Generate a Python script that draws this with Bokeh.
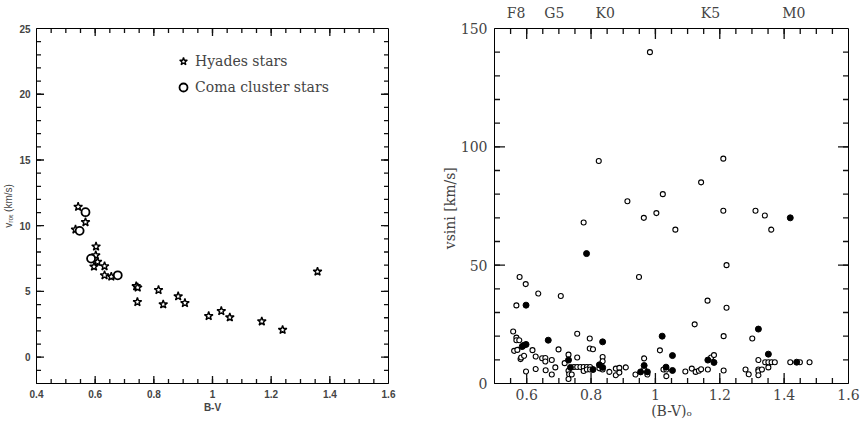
import math
from bokeh.plotting import figure
from bokeh.models import FixedTicker, LinearAxis, Legend, LegendItem, ColumnDataSource
from bokeh.layouts import row
from bokeh.embed import file_html
from bokeh.resources import INLINE

# ---------------- data: left panel ----------------
hyades_bv = [0.542, 0.533, 0.567, 0.603, 0.602, 0.608, 0.596, 0.632, 0.632, 0.655,
             0.740, 0.745, 0.744, 0.816, 0.832, 0.883, 0.906, 0.987, 1.030, 1.059,
             1.168, 1.239, 1.358]
hyades_vrot = [11.44, 9.71, 10.27, 8.42, 7.75, 7.25, 6.89, 6.92, 6.23, 6.13,
               5.40, 5.30, 4.20, 5.11, 4.02, 4.63, 4.12, 3.13, 3.51, 3.03,
               2.72, 2.08, 6.51]
coma_bv = [0.567, 0.547, 0.586, 0.677]
coma_vrot = [11.03, 9.61, 7.50, 6.23]

left_xticks = [0.4, 0.6, 0.8, 1.0, 1.2, 1.4, 1.6]
left_xlabels = ["0.4", "0.6", "0.8", "1", "1.2", "1.4", "1.6"]
left_yticks = [0, 5, 10, 15, 20, 25]

# ---------------- data: right panel ----------------
open_bv = [0.983, 0.824, 1.211, 1.142, 1.023, 0.913, 1.003, 1.211, 1.311, 1.340,
           0.964, 0.777, 1.062, 1.360, 1.221, 0.949, 0.578, 0.597, 0.636, 0.706,
           0.568, 1.162, 1.221, 1.122, 0.558, 0.757, 1.212, 0.568, 0.568, 0.577,
           0.796, 1.301,
           0.561, 0.571, 0.581, 0.583, 0.592, 0.598, 0.618, 0.628, 0.628, 0.648,
           0.658, 0.658, 0.659, 0.678, 0.678, 0.689, 0.699, 0.718, 0.730, 0.730,
           0.732, 0.730, 0.740, 0.757, 0.747, 0.757, 0.767, 0.777, 0.787, 0.797,
           0.777, 0.787, 0.797, 0.796, 0.806, 0.836, 0.836, 0.826, 0.836, 0.857,
           0.877, 0.888, 0.877, 0.888, 0.908, 0.938, 0.965, 0.965, 0.975, 1.014,
           1.025, 1.034, 1.034, 1.093, 1.113, 1.125, 1.135, 1.142, 1.163, 1.173,
           1.182, 1.212, 1.280, 1.290, 1.320, 1.320, 1.320, 1.320, 1.331, 1.351,
           1.341, 1.351, 1.361, 1.371, 1.419, 1.449, 1.479]
open_vsini = [140, 94, 95, 85, 80, 77, 72, 73, 73, 71,
              70, 68, 65, 65, 50, 45, 45, 42, 38, 37,
              33, 35, 32, 25, 22, 21, 20, 19.4, 18.3, 18.3,
              19, 19,
              13.8, 14.2, 10.3, 11.0, 11.7, 5.1, 14.1, 11.4, 6.1, 10.7,
              10.8, 9.3, 5.6, 9.9, 3.8, 6.8, 14.4, 8.6, 12.2, 5.4,
              3.9, 1.9, 3.8, 11.0, 7.0, 7.0, 7.0, 7.0, 7.0, 7.0,
              5.3, 5.9, 5.9, 14.8, 14.5, 11.2, 9.4, 6.4, 5.9, 4.9,
              6.3, 6.6, 3.5, 4.6, 6.8, 3.8, 10.6, 5.9, 3.8, 14.0,
              5.9, 5.9, 3.1, 5.1, 6.3, 4.9, 5.4, 6.0, 5.9, 11.0,
              12.0, 5.5, 5.9, 3.9, 9.9, 5.9, 5.2, 3.5, 5.9, 6.8,
              9.0, 9.0, 9.0, 9.0, 9.0, 9.0, 9.0]
filled_bv = [0.598, 0.786, 1.419, 0.598, 0.590, 0.586, 0.667, 0.730, 0.736, 0.806,
             0.826, 0.836, 0.836, 0.954, 0.965, 0.975, 1.021, 1.033, 1.053, 1.053,
             1.163, 1.182, 1.320, 1.351, 1.439]
filled_vsini = [33.1, 54.9, 70.0, 16.5, 16.1, 15.6, 18.3, 9.9, 6.8, 5.9,
                7.9, 6.8, 17.6, 4.9, 7.6, 4.9, 20.0, 6.9, 11.8, 5.5,
                9.9, 8.9, 23.0, 12.4, 9.0]

right_xticks = [0.6, 0.8, 1.0, 1.2, 1.4, 1.6]
right_xlabels = ["0.6", "0.8", "1", "1.2", "1.4", "1.6"]
right_yticks = [0, 50, 100, 150]
spec_types = ["F8", "G5", "K0", "K5", "M0"]
spec_bv = [0.567, 0.686, 0.844, 1.171, 1.430]


def steps(lo, hi, step):
    n = int(round((hi - lo) / step))
    return [round(lo + i * step, 4) for i in range(n + 1)]


def plain_axis(ax):
    ax.major_tick_in = 0
    ax.major_tick_out = 0
    ax.minor_tick_in = 0
    ax.minor_tick_out = 0
    ax.axis_line_color = "black"
    ax.major_tick_line_color = None
    ax.minor_tick_line_color = None


def inner_ticks(p, x0, x1, y0, y1, fw, fh, xmaj, xmin, ymaj, ymin, lmaj, lmin):
    """Inward tick marks on all four frame sides, drawn as 'dash' markers
    whose centres sit half a tick length inside the frame."""
    dx = (x1 - x0) / fw  # data per pixel
    dy = (y1 - y0) / fh
    X, Y, S, A = [], [], [], []
    for ticks, ln in ((xmaj, lmaj), (xmin, lmin)):
        for v in ticks:
            if x0 < v < x1:
                X += [v, v]
                Y += [y0 + (ln / 2 + 0.5) * dy, y1 - (ln / 2 + 0.5) * dy]
                S += [ln, ln]
                A += [math.pi / 2] * 2
    for ticks, ln in ((ymaj, lmaj), (ymin, lmin)):
        for v in ticks:
            if y0 < v < y1:
                Y += [v, v]
                X += [x0 + (ln / 2 + 0.5) * dx, x1 - (ln / 2 + 0.5) * dx]
                S += [ln, ln]
                A += [0.0, 0.0]
    src = ColumnDataSource(dict(x=X, y=Y, s=S, a=A))
    p.scatter("x", "y", source=src, marker="dash", size="s", angle="a",
              line_color="#111111", line_width=1.3)


# ---------------- left figure ----------------
LX0, LX1, LY0, LY1 = 0.4, 1.6, -2, 25
p1 = figure(width=430, height=426, x_range=(LX0, LX1), y_range=(LY0, LY1),
            output_backend="svg", toolbar_location=None,
            min_border_left=35, min_border_right=42, min_border_top=28, min_border_bottom=43)
p1.grid.visible = False
p1.outline_line_color = "black"

p1.xaxis.ticker = FixedTicker(ticks=left_xticks, minor_ticks=[])
p1.yaxis.ticker = FixedTicker(ticks=left_yticks, minor_ticks=[])
p1.xaxis.major_label_overrides = {t: l for t, l in zip(left_xticks, left_xlabels)}
for ax in (p1.xaxis[0], p1.yaxis[0]):
    plain_axis(ax)
    ax.major_label_text_font = "Liberation Sans"
    ax.major_label_text_font_style = "bold"
    ax.major_label_text_font_size = "10px"
    ax.major_label_standoff = 7
    ax.axis_label_text_font = "Liberation Sans"
    ax.axis_label_text_font_size = "10px"
p1.xaxis.major_label_standoff = 6
p1.xaxis.axis_label_standoff = 1
p1.yaxis.major_label_standoff = 6
p1.yaxis.axis_label_standoff = 2
p1.xaxis.axis_label = "B-V"
p1.xaxis.axis_label_text_font_style = "bold"
p1.yaxis.axis_label = "vᵣₒₜ (km/s)"
p1.yaxis.axis_label_text_font_style = "normal"

inner_ticks(p1, LX0, LX1, LY0, LY1, 350, 355, left_xticks, steps(LX0, LX1, 0.05),
            left_yticks, steps(LY0, LY1, 1), 7, 4)

src_h = ColumnDataSource(dict(x=hyades_bv, y=hyades_vrot))
src_c = ColumnDataSource(dict(x=coma_bv, y=coma_vrot))
r_h = p1.scatter("x", "y", source=src_h, marker="star", size=9,
                 fill_color="white", line_color="black", line_width=1.4)
r_c = p1.scatter("x", "y", source=src_c, marker="circle", size=8,
                 fill_color="white", line_color="black", line_width=1.8)

legend = Legend(items=[LegendItem(label="Hyades stars", renderers=[r_h]),
                       LegendItem(label="Coma cluster stars", renderers=[r_c])],
                location=(137, 286), border_line_color=None, background_fill_alpha=0,
                padding=0, margin=0, spacing=6, glyph_width=20, glyph_height=20,
                label_standoff=2, label_text_font="DejaVu Serif",
                label_text_font_size="14px")
p1.add_layout(legend)

# ---------------- right figure ----------------
RX0, RX1, RY0, RY1 = 0.5, 1.6, 0, 150
p2 = figure(width=431, height=426, x_range=(RX0, RX1), y_range=(RY0, RY1),
            output_backend="svg", toolbar_location=None,
            min_border_left=64, min_border_right=13, min_border_top=28, min_border_bottom=43)
p2.grid.visible = False
p2.outline_line_color = "black"

p2.xaxis.ticker = FixedTicker(ticks=right_xticks, minor_ticks=[])
p2.yaxis.ticker = FixedTicker(ticks=right_yticks, minor_ticks=[])
p2.xaxis.major_label_overrides = {t: l for t, l in zip(right_xticks, right_xlabels)}
for ax in (p2.xaxis[0], p2.yaxis[0]):
    plain_axis(ax)
    ax.major_label_text_font = "DejaVu Serif"
    ax.major_label_text_font_size = "14px"
    ax.axis_label_text_font = "DejaVu Serif"
    ax.axis_label_text_font_size = "14px"
    ax.axis_label_text_font_style = "normal"
p2.xaxis.major_label_standoff = 5
p2.xaxis.axis_label_standoff = 0
p2.yaxis.major_label_standoff = 7
p2.yaxis.axis_label_standoff = 0
p2.xaxis.axis_label = "(B-V)ₒ"
p2.yaxis.axis_label = "vsini  [km/s]"

spec_axis = LinearAxis(ticker=FixedTicker(ticks=spec_bv, minor_ticks=[]))
spec_axis.major_label_overrides = {t: l for t, l in zip(spec_bv, spec_types)}
plain_axis(spec_axis)
spec_axis.axis_line_color = None
spec_axis.major_label_standoff = 8
spec_axis.major_label_text_font = "DejaVu Serif"
spec_axis.major_label_text_font_size = "14px"
p2.add_layout(spec_axis, "above")

inner_ticks(p2, RX0, RX1, RY0, RY1, 354, 355, right_xticks, steps(RX0, RX1, 0.05),
            right_yticks, steps(RY0, RY1, 10), 10, 5)

src_o = ColumnDataSource(dict(x=open_bv, y=open_vsini))
src_f = ColumnDataSource(dict(x=filled_bv, y=filled_vsini))
p2.scatter("x", "y", source=src_o, marker="circle", size=5,
           fill_color="white", line_color="black", line_width=1.1)
p2.scatter("x", "y", source=src_f, marker="circle", size=6,
           fill_color="black", line_color="black", line_width=1)

layout = row(p1, p2)
open("out.html", "w").write(file_html(layout, INLINE))
